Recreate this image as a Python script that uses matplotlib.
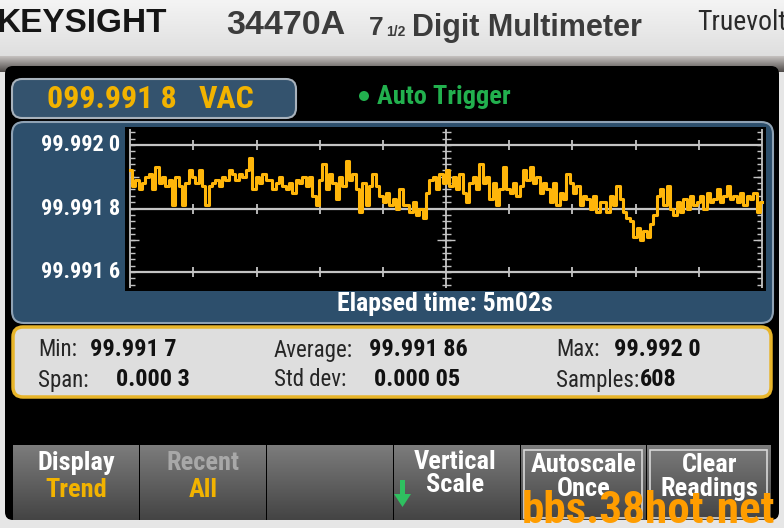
#!/usr/bin/env python3
"""Keysight 34470A trend screen, redrawn with matplotlib."""

import numpy as np
import matplotlib

matplotlib.use("Agg")
import matplotlib.pyplot as plt
from matplotlib.patches import FancyBboxPatch, Rectangle, Circle, Polygon

# trend readings, in units of 10 uV above 99.99 V, left to right (608 samples total)
trend_counts = [
    192, 187, 189, 186, 188, 190, 191, 186, 193, 188, 190, 187,
    189, 181, 190, 187, 181, 188, 192, 190, 188, 192, 187, 181,
    187, 188, 189, 187, 190, 189, 192, 191, 189, 191, 190, 192,
    196, 186, 190, 188, 191, 189, 189, 186, 188, 190, 187, 186,
    188, 185, 189, 188, 190, 187, 190, 184, 181, 189, 194, 186,
    191, 188, 183, 190, 187, 195, 189, 191, 186, 179, 188, 181,
    187, 191, 187, 184, 182, 185, 181, 183, 180, 186, 181, 181,
    179, 182, 178, 180, 177, 185, 189, 190, 186, 191, 188, 192,
    187, 190, 186, 191, 185, 182, 188, 190, 186, 194, 188, 190,
    183, 188, 181, 186, 193, 186, 185, 188, 184, 187, 192, 189,
    193, 188, 190, 185, 188, 186, 182, 188, 181, 185, 183, 191,
    188, 185, 187, 181, 184, 183, 180, 184, 179, 182, 182, 179,
    184, 181, 187, 183, 179, 177, 176, 171, 174, 170, 173, 171,
    175, 178, 184, 186, 181, 187, 180, 178, 182, 179, 183, 180,
    184, 181, 182, 184, 180, 185, 182, 183, 186, 182, 184, 187,
    183, 184, 182, 185, 181, 184, 183, 185, 179, 182,
]
n_samples = 608

y_tick_values = [99.9916, 99.9918, 99.9920]
y_tick_labels = ["99.991 6", "99.991 8", "99.992 0"]

reading_text = "099.991 8"
reading_unit = "VAC"
elapsed_text = "Elapsed time: 5m02s"

stat_names = ["Min:", "Span:", "Average:", "Std dev:", "Max:", "Samples:"]
stat_values = ["99.991 7", "0.000 3", "99.991 86", "0.000 05", "99.992 0", "608"]

softkey_top = ["Display", "Recent", "", "Vertical", "Autoscale", "Clear"]
softkey_bottom = ["Trend", "All", "", "Scale", "Once", "Readings"]

COND = ["Roboto Condensed", "DejaVu Sans"]
WIDE = ["Liberation Sans", "DejaVu Sans"]

ORANGE = "#f2b300"
SLATE = "#2d4f6c"
GREEN = "#22b04e"


def rbox(ax, x0, y0, x1, y1, r, fc, ec="none", lw=0.0, z=1):
    patch = FancyBboxPatch(
        (x0 + r, y0 + r), x1 - x0 - 2 * r, y1 - y0 - 2 * r,
        boxstyle=f"round,pad={r}", facecolor=fc, edgecolor=ec, linewidth=lw, zorder=z,
    )
    ax.add_patch(patch)
    return patch


def gradient(ax, x0, y0, x1, y1, top, bottom, z=1, clip=None):
    c0 = np.array(matplotlib.colors.to_rgb(top))
    c1 = np.array(matplotlib.colors.to_rgb(bottom))
    t = np.linspace(0, 1, 64)[:, None, None]
    img = c0 + (c1 - c0) * t
    im = ax.imshow(img, extent=(x0, x1, y1, y0), aspect="auto", zorder=z, interpolation="bilinear")
    if clip is not None:
        im.set_clip_path(clip)
    return im


fig = plt.figure(figsize=(7.84, 5.28), dpi=100)
bg = fig.add_axes([0, 0, 1, 1])
bg.set_xlim(0, 784)
bg.set_ylim(528, 0)
bg.axis("off")

# instrument bezel
gradient(bg, 0, 0, 784, 58, "#f4f4f4", "#dedede", z=0)
gradient(bg, 0, 56, 784, 72, "#c6c2c0", "#4e4a48", z=0.5)
bg.add_patch(Rectangle((0, 72), 784, 456, facecolor="#e6e6e6", zorder=0))
bg.set_xlim(0, 784)
bg.set_ylim(528, 0)

bg.text(-3, 23, "KEYSIGHT", family=WIDE, fontsize=24, fontweight="bold", color="#151515",
        va="center", ha="left")
bg.text(226, 25, "34470A", family=WIDE, fontsize=24.5, fontweight="bold", color="#3c3c3c",
        va="center", ha="left")
bg.text(369, 28, "7", family=WIDE, fontsize=19, fontweight="bold", color="#3c3c3c",
        va="center", ha="left")
bg.text(386, 32, "1/2", family=WIDE, fontsize=10, fontweight="bold", color="#3c3c3c",
        va="center", ha="left")
bg.text(412, 28, "Digit Multimeter", family=WIDE, fontsize=22, fontweight="bold",
        color="#3c3c3c", va="center", ha="left")
bg.text(697, 22, "Truevolt", family=COND, fontsize=20, color="#2a2a2a",
        va="center", ha="left")

# screen
rbox(bg, 5, 66, 779, 520, 8, "#000000", z=1)

# reading box
rbox(bg, 12, 79, 296, 118, 10, "#34536e", ec="#a8b2bc", lw=1.5, z=2)
bg.text(47, 99, reading_text, family=COND, fontsize=23, fontweight="bold", color=ORANGE,
        va="center", ha="left", zorder=3)
bg.text(199, 99, reading_unit, family=COND, fontsize=23, fontweight="bold", color=ORANGE,
        va="center", ha="left", zorder=3)
bg.add_patch(Circle((364, 96), 5, facecolor=GREEN, edgecolor="none", zorder=3))
bg.text(377, 97, "Auto Trigger", family=COND, fontsize=19, fontweight="bold", color=GREEN,
        va="center", ha="left", zorder=3)

# trend panel
rbox(bg, 12, 122, 773, 323, 12, SLATE, ec="#8fa2b4", lw=1.5, z=2)
for val, lab in zip(y_tick_values, y_tick_labels):
    ypx = 145 + (99.9920 - val) / 0.0002 * 63.5
    bg.text(120, ypx, lab, family=COND, fontsize=16, fontweight="bold", color="white",
            va="center", ha="right", zorder=3)
bg.text(445, 304, elapsed_text, family=COND, fontsize=18.5, fontweight="bold", color="white",
        va="center", ha="center", zorder=3)

# stats panel
rbox(bg, 13, 327, 771, 397, 10, "#dedede", ec="#e8b52a", lw=2.5, z=2)
stat_pos = [(38, 90, 350), (38, 116, 380), (274, 369, 350), (274, 374, 380),
            (556, 614, 350), (556, 640, 380)]
for name, value, (xn, xv, ypx) in zip(stat_names, stat_values, stat_pos):
    bg.text(xn, ypx, name, family=COND, fontsize=16.5, color="#262626",
            va="center", ha="left", zorder=3)
    bg.text(xv, ypx, value, family=COND, fontsize=17.5, fontweight="bold", color="#111111",
            va="center", ha="left", zorder=3)

# softkeys
key_edges = [13, 140, 267, 394, 521, 647, 772]
for i in range(6):
    x0, x1 = key_edges[i], key_edges[i + 1]
    clip = Rectangle((x0, 445), x1 - x0 - 1.5, 75, facecolor="none", edgecolor="none",
                     transform=bg.transData)
    bg.add_patch(clip)
    gradient(bg, x0, 445, x1 - 1.5, 520, "#7c7c7c", "#444444", z=2, clip=clip)
    xc = (x0 + x1) / 2
    top_color = "#a8a8a8" if softkey_top[i] == "Recent" else "white"
    bottom_color = ORANGE if i < 2 else "white"
    if i == 3:
        xc = 455
    if i >= 4:
        bg.add_patch(Rectangle((x0 + 3, 450), x1 - x0 - 8, 68, facecolor="none",
                               edgecolor="#d8d8d8", linewidth=1.2, zorder=3))
    ty, by = (463, 490) if i < 4 else (465, 489)
    if i == 3:
        ty, by = 462, 485
    bg.text(xc, ty, softkey_top[i], family=COND, fontsize=19, fontweight="bold",
            color=top_color, va="center", ha="center", zorder=4)
    bg.text(xc, by, softkey_bottom[i], family=COND, fontsize=19, fontweight="bold",
            color=bottom_color, va="center", ha="center", zorder=4)

# green down arrow on Vertical Scale
bg.add_patch(Rectangle((400, 480), 5, 15, facecolor="#2fc060", zorder=4))
bg.add_patch(Polygon([(394, 494), (411, 494), (402.5, 507)], closed=True,
                     facecolor="#2fc060", zorder=4))

# watermark
bg.text(522, 511, "bbs.38hot.net", family=COND, fontsize=32.5, fontweight="bold",
        color="#ff9d00", va="center", ha="left", zorder=6)

# trend plot area
ax = fig.add_axes([125 / 784, 1 - 291 / 528, (766 - 125) / 784, (291 - 127) / 528])
ax.set_facecolor("black")
for sp in ax.spines.values():
    sp.set_visible(False)
ax.set_xticks([])
ax.set_yticks([])
x_lo, x_hi = -5, 611
y_lo, y_hi = 99.99154, 99.992057
ax.set_xlim(x_lo, x_hi)
ax.set_ylim(y_lo, y_hi)
px_x = 641 / (x_hi - x_lo)
px_y = 164 / (y_hi - y_lo)

grid_c = "#c4c4c4"
ax.hlines(y_tick_values, 0, n_samples - 1, color=grid_c, linewidth=1.6, zorder=1)
x_axes = [0, (n_samples - 1) / 2, n_samples - 1]
ax.vlines(x_axes, 99.99155, 99.99205, color=grid_c, linewidth=1.3, zorder=1)

minor_y = np.arange(99.99156, 99.992045, 0.00002)
tl = 4.5 / px_x
ax.hlines(minor_y, 0, tl, color=grid_c, linewidth=1.0, zorder=1)
ax.hlines(minor_y, n_samples - 1 - tl, n_samples - 1, color=grid_c, linewidth=1.0, zorder=1)
ax.hlines(minor_y, x_axes[1] - tl, x_axes[1] + tl, color=grid_c, linewidth=1.0, zorder=1)
long_y = [99.9917, 99.9919]
ax.hlines(long_y, 0, 2 * tl, color=grid_c, linewidth=1.0, zorder=1)
ax.hlines(long_y, n_samples - 1 - 2 * tl, n_samples - 1, color=grid_c, linewidth=1.0, zorder=1)
ax.hlines(long_y, x_axes[1] - 2 * tl, x_axes[1] + 2 * tl, color=grid_c, linewidth=1.0, zorder=1)

major_x = [(n_samples - 1) * k / 10 for k in range(1, 10) if k != 5]
vt = 5 / px_y
for yv in y_tick_values:
    ax.vlines(major_x, yv - vt, yv + vt, color=grid_c, linewidth=1.3, zorder=1)

vals = 99.99 + np.array(trend_counts) * 1e-5
xs = np.linspace(0, n_samples - 1, len(vals))
ax.plot(xs, vals, drawstyle="steps-mid", color="#ffb60a", linewidth=2.2, zorder=3)

fig.savefig("out.png", dpi=100)
